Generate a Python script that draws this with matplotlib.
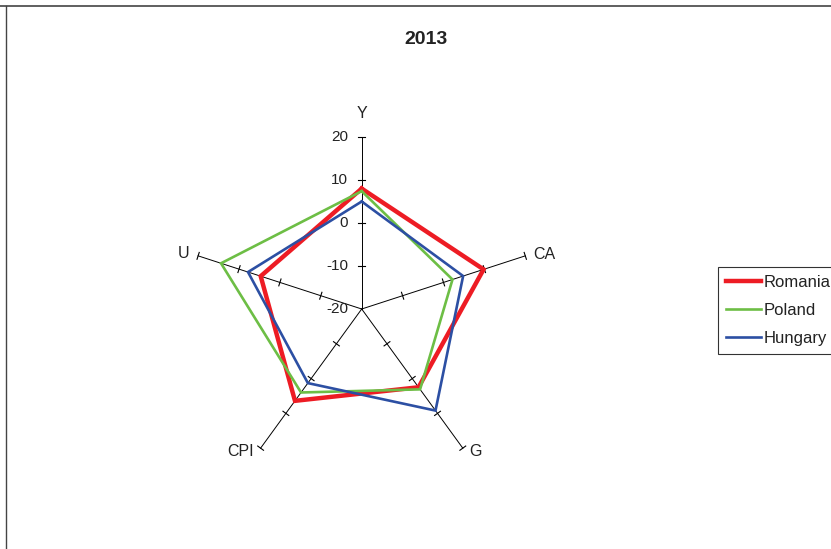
import numpy as np
import matplotlib
matplotlib.use("Agg")
import matplotlib.pyplot as plt
from matplotlib.lines import Line2D

plt.rcParams['font.family'] = ['Liberation Sans', 'DejaVu Sans']

# ---- data -------------------------------------------------------------
categories = ['Y', 'CA', 'G', 'CPI', 'U']
romania = [8.0, 9.8, 2.5, 6.4, 4.7]
poland = [7.4, 2.2, 3.1, 4.0, 14.4]
hungary = [5.0, 4.8, 9.2, 1.3, 7.8]
tick_values = [-20, -10, 0, 10, 20]
series_names = ['Romania', 'Poland', 'Hungary']
title = '2013'

# ---- layout -----------------------------------------------------------
W, H = 831, 549
cx, cy = 361.7, 309.0          # pixel position of the chart centre
scale = 4.3                   # pixels per value unit
rmin, rmax = tick_values[0], tick_values[-1]

fig = plt.figure(figsize=(W / 100, H / 100), dpi=100)
ax = fig.add_axes([0, 0, 1, 1])
ax.set_xlim(-cx / scale, (W - cx) / scale)
ax.set_ylim(-(H - cy) / scale, cy / scale)
ax.set_aspect('equal')
ax.axis('off')

n = len(categories)
angles = np.deg2rad(90 - 72 * np.arange(n))


def to_xy(vals):
    r = np.asarray(vals, dtype=float) - rmin
    return r * np.cos(angles), r * np.sin(angles)


# spokes
R = rmax - rmin
for a in angles:
    ax.plot([0, R * np.cos(a)], [0, R * np.sin(a)], color='black', lw=0.7, zorder=1)

# tick marks along each spoke
half = 3.6 / scale
for i, a in enumerate(angles):
    ux, uy = np.cos(a), np.sin(a)
    px, py = -uy, ux
    for t in tick_values[1:]:
        r = t - rmin
        x0, y0 = r * ux, r * uy
        ax.plot([x0 - px * half, x0 + px * half], [y0 - py * half, y0 + py * half],
                color='black', lw=0.8, zorder=1)

# value labels on the vertical spoke
for t in tick_values:
    r = t - rmin
    ax.text(-13.5 / scale, r, str(t), ha='right', va='center', fontsize=11,
            color='#222222')

# category labels
label_offsets = {
    'Y': (0, 23, 'center', 'center'),
    'CA': (8, 1.5, 'left', 'center'),
    'G': (6, -3, 'left', 'center'),
    'CPI': (-7, -3, 'right', 'center'),
    'U': (-9, 2, 'right', 'center'),
}
for i, c in enumerate(categories):
    ex, ey = R * np.cos(angles[i]), R * np.sin(angles[i])
    dx, dy, ha, va = label_offsets[c]
    ax.text(ex + dx / scale, ey + dy / scale, c, ha=ha, va=va, fontsize=11.5,
            color='#222222')

# series polygons
colors = ['#ED1C24', '#6DBE45', '#2C4FA3']
widths = [3.2, 1.9, 1.9]
for name, vals, col, lw in zip(series_names, [romania, poland, hungary], colors, widths):
    x, y = to_xy(vals)
    x = np.append(x, x[0])
    y = np.append(y, y[0])
    ax.plot(x, y, color=col, lw=lw, label=name, solid_joinstyle='miter', zorder=3)

# title
fig.text(425.8 / W, 1 - 39.7 / H, title, ha='center', va='center', fontsize=14,
         fontweight='bold', color='#222222')

# legend
leg = ax.legend(loc='upper left', bbox_to_anchor=(718.3 / W, 1 - 267.3 / H),
                bbox_transform=fig.transFigure, borderaxespad=0, fontsize=12,
                frameon=True, fancybox=False, borderpad=0.47, labelspacing=0.78,
                handlelength=2.1, handletextpad=0.12)
leg.get_frame().set_edgecolor('black')
leg.get_frame().set_linewidth(0.8)
for txt in leg.get_texts():
    txt.set_color('#222222')

# outer frame (top and left edges)
fig.add_artist(Line2D([0, 1], [1 - 6 / H, 1 - 6 / H], transform=fig.transFigure,
                      color='#444444', lw=1.2))
fig.add_artist(Line2D([6 / W, 6 / W], [0, 1 - 6 / H], transform=fig.transFigure,
                      color='#444444', lw=1.0))

fig.savefig('out.png', dpi=100)
